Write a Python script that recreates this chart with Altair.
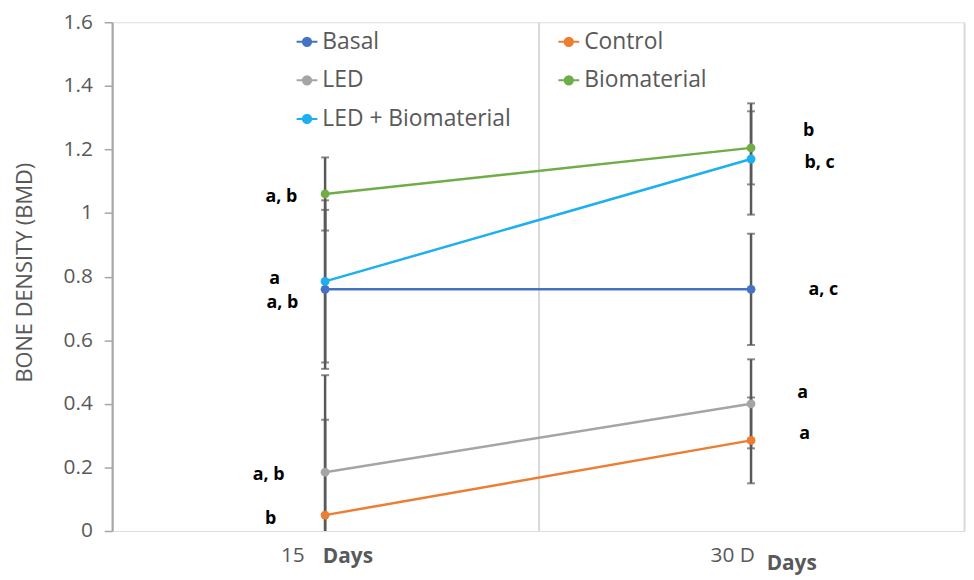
import altair as alt
import pandas as pd

# ---- data ----
series = ["Basal", "Control", "LED", "Biomaterial", "LED + Biomaterial"]
colors = ["#4472C4", "#ED7D31", "#A5A5A5", "#70AD47", "#1EB0EE"]
# legend reading order (filled column by column: Basal, LED, LED+Bio | Control, Biomaterial)
legend_order = ["Basal", "LED", "LED + Biomaterial", "Control", "Biomaterial"]
days = ["15", "30 D"]
bmd_15 = [0.76, 0.05, 0.185, 1.06, 0.785]
bmd_30 = [0.76, 0.285, 0.40, 1.205, 1.17]
err_15 = [0.25, 0.30, 0.305, 0.115, 0.255]
err_30 = [0.175, 0.135, 0.14, 0.115, 0.175]
letters_15 = ["a, b", "b", "a, b", "a, b", "a"]
letters_30 = ["a, c", "a", "a", "b", "b, c"]
letter_y_15 = [0.717, 0.037, 0.175, 1.051, 0.792]
letter_y_30 = [0.758, 0.306, 0.434, 1.257, 1.157]
y_ticks = [0, 0.2, 0.4, 0.6, 0.8, 1, 1.2, 1.4, 1.6]

# label nudges (pixels from the category centre, style only)
letter_dx_15 = [-43, -55, -57, -44, -51]
letter_dx_30 = [73, 54, 52, 58, 69]
days_word_dx = [23, 41]
days_word_y = [539, 546]

W, H = 859, 513
HALF_BAND = W / 4  # xOffset is measured from the band start

FONT = "Open Sans"
GREY = "#595959"

rows, caps, labels = [], [], []
for i, s in enumerate(series):
    for d, vals, errs, lets, ly, ldx in (
        (days[0], bmd_15, err_15, letters_15, letter_y_15, letter_dx_15),
        (days[1], bmd_30, err_30, letters_30, letter_y_30, letter_dx_30),
    ):
        v, e = vals[i], errs[i]
        rows.append({"series": s, "day": d, "bmd": v, "lo": max(0.0, v - e), "hi": v + e, "order": i})
        caps.append({"day": d, "cap": v + e})
        if v - e >= 0:
            caps.append({"day": d, "cap": v - e})
        labels.append({"day": d, "ly": ly[i], "txt": lets[i], "dx": ldx[i] + HALF_BAND})

df = pd.DataFrame(rows)
cap_df = pd.DataFrame(caps)
lab_df = pd.DataFrame(labels)
days_df = pd.DataFrame({"day": days, "dx": [v + HALF_BAND for v in days_word_dx], "py": days_word_y})

xscale = alt.Scale(domain=days, paddingInner=0, paddingOuter=0)
yscale = alt.Scale(domain=[0, 1.6], nice=False)
color_of = dict(zip(series, colors))
cscale = alt.Scale(domain=legend_order, range=[color_of[s] for s in legend_order])

x_axis = alt.Axis(
    ticks=False,
    domain=False,
    grid=True,
    gridColor="#D9D9D9",
    gridWidth=2,
    tickBand="extent",
    labelAngle=0,
    labelFontSize=21,
    labelColor=GREY,
    labelFont=FONT,
    labelPadding=14,
    labelOffset={"condition": {"test": "datum.value == '15'", "value": -33}, "value": -19},
)
y_axis = alt.Axis(
    values=y_ticks,
    format="~g",
    grid=False,
    domainColor="#A6A6A6",
    domainWidth=2,
    tickColor="#A6A6A6",
    tickWidth=1.5,
    tickSize=8,
    labelFontSize=21,
    labelColor=GREY,
    labelFont=FONT,
    labelPadding=12,
    titleFont=FONT,
    titleFontSize=22,
    titleFontWeight="normal",
    titleColor=GREY,
    titleX=-88,
    titleY=252,
    titleAngle=-90,
    titleAlign="center",
    titleBaseline="middle",
)
TITLE = "BONE DENSITY (BMD)"


def X():
    return alt.X("day:N", scale=xscale, axis=x_axis, title=None)


def Y(field):
    return alt.Y(field, scale=yscale, axis=y_axis, title=TITLE)


# line-with-dot legend glyph (circle drawn with cubic curves)
R = 0.4
K = round(0.5523 * R, 4)
GLYPH = (
    f"M-1,0L1,0M{R},0"
    f"C{R},{K} {K},{R} 0,{R}"
    f"C-{K},{R} -{R},{K} -{R},0"
    f"C-{R},-{K} -{K},-{R} 0,-{R}"
    f"C{K},-{R} {R},-{K} {R},0Z"
)

base = alt.Chart(df)

err = base.mark_rule(color=GREY, strokeWidth=2.5).encode(x=X(), y=Y("lo:Q"), y2="hi:Q")
cap = alt.Chart(cap_df).mark_tick(color=GREY, thickness=2, size=8).encode(x=X(), y=Y("cap:Q"))
lines = base.mark_line(strokeWidth=2.5).encode(
    x=X(),
    y=Y("bmd:Q"),
    stroke=alt.Stroke(
        "series:N",
        scale=cscale,
        legend=alt.Legend(
            title=None,
            orient="none",
            legendX=185,
            legendY=8,
            columns=2,
            columnPadding=43,
            rowPadding=15,
            padding=0,
            labelFont=FONT,
            labelFontSize=23,
            labelColor=GREY,
            labelOffset=4,
            labelLimit=400,
            symbolType=GLYPH,
            symbolSize=441,
            symbolStrokeWidth=2,
        ),
    ),
    order="order:Q",
)
points = base.mark_point(filled=True, size=80, opacity=1, strokeWidth=1).encode(
    x=X(),
    y=Y("bmd:Q"),
    fill=alt.Fill("series:N", scale=cscale, legend=None),
)
letters = alt.Chart(lab_df).mark_text(
    font=FONT, fontSize=18, fontWeight="bold", color="#000000", align="center", baseline="middle"
).encode(
    x=X(),
    y=Y("ly:Q"),
    xOffset=alt.XOffset("dx:Q", scale=None),
    text="txt:N",
)
days_words = alt.Chart(days_df).mark_text(
    font=FONT, fontSize=21, fontWeight="bold", color=GREY, align="center", baseline="middle"
).encode(
    x=X(),
    xOffset=alt.XOffset("dx:Q", scale=None),
    y=alt.Y("py:Q", scale=None),
    text=alt.value("Days"),
)

chart = (
    alt.layer(err, cap, lines, points, letters, days_words)
    .properties(
        width=W,
        height=H,
        autosize=alt.AutoSizeParams(type="none"),
        padding={"left": 105, "top": 12, "right": 2, "bottom": 47},
    )
    .configure_view(stroke="#A6A6A6", strokeWidth=2)
    .configure(background="white")
)

chart.save("out.html", embed_options={"renderer": "svg", "actions": False})
